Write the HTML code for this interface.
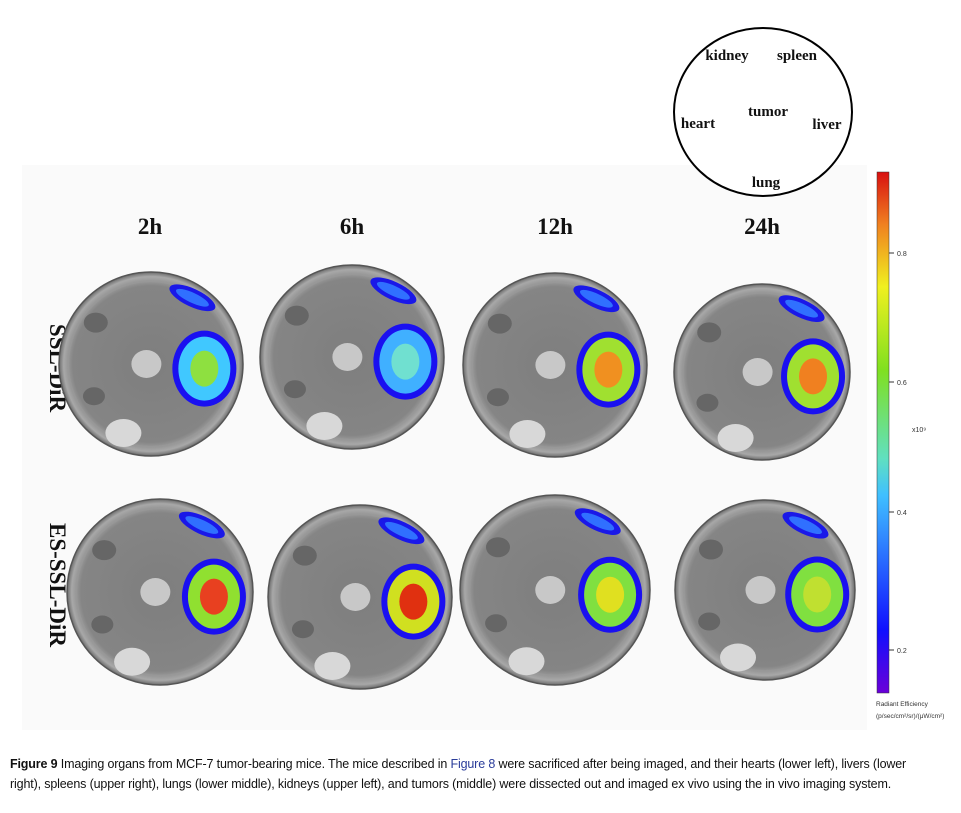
<!DOCTYPE html>
<html><head><meta charset="utf-8"><style>
body{margin:0;background:#fff;width:961px;height:813px;overflow:hidden;font-family:"Liberation Sans",sans-serif}
svg{position:absolute;left:0;top:0}
.cap{position:absolute;left:10px;top:754px;width:950px;font-size:12.5px;letter-spacing:-0.15px;line-height:20px;color:#111;font-family:"Liberation Sans",sans-serif;white-space:nowrap}
.cap b{font-weight:bold}
.cap a{color:#2a3c9a;text-decoration:none}
</style></head><body>
<svg width="961" height="813">
<defs>
<linearGradient id="cb" x1="0" y1="1" x2="0" y2="0">
<stop offset="0" stop-color="#6a00d8"/><stop offset="0.12" stop-color="#1010ff"/><stop offset="0.38" stop-color="#40c0ff"/><stop offset="0.45" stop-color="#60e0c0"/><stop offset="0.62" stop-color="#80e020"/><stop offset="0.78" stop-color="#f0f020"/><stop offset="0.9" stop-color="#f08020"/><stop offset="1" stop-color="#d81010"/>
</linearGradient>
<radialGradient id="dishg"><stop offset="0" stop-color="#7e7e7e"/><stop offset="0.85" stop-color="#858585"/><stop offset="0.95" stop-color="#a8a8a8"/><stop offset="1" stop-color="#6a6a6a"/></radialGradient>
</defs>
<rect x="22" y="165" width="845" height="565" fill="#fafafa"/>
<g font-family="Liberation Serif,serif" font-weight="bold" font-size="15" fill="#111">
<ellipse cx="763" cy="112" rx="89" ry="84" fill="#fff" stroke="#000" stroke-width="2"/>
<text x="727" y="60" text-anchor="middle">kidney</text>
<text x="797" y="60" text-anchor="middle">spleen</text>
<text x="768" y="116" text-anchor="middle">tumor</text>
<text x="698" y="128" text-anchor="middle">heart</text>
<text x="827" y="129" text-anchor="middle">liver</text>
<text x="766" y="187" text-anchor="middle">lung</text>
</g>
<g font-family="Liberation Serif,serif" font-weight="bold" font-size="23" fill="#111" text-anchor="middle">
<text x="150" y="234">2h</text>
<text x="352" y="234">6h</text>
<text x="555" y="234">12h</text>
<text x="762" y="234">24h</text>
<text transform="translate(50,368) rotate(90)">SSL-DiR</text>
<text transform="translate(50,585) rotate(90)">ES-SSL-DiR</text>
</g>
<g id="dishes"></g>
<g>
<rect x="877" y="172" width="12" height="521" fill="url(#cb)" stroke="#333" stroke-width="0.5"/>
<g id="cbticks" font-size="7" fill="#333"></g>
<text x="912" y="432" font-size="7" fill="#333">x10⁹</text>
<text x="876" y="706" font-size="6.5" fill="#333">Radiant Efficiency</text>
<text x="876" y="718" font-size="6.5" fill="#333">(p/sec/cm²/sr)/(μW/cm²)</text>
</g>
</svg>
<div class="cap"><b>Figure 9</b> Imaging organs from MCF-7 tumor-bearing mice. The mice described in <a>Figure 8</a> were sacrificed after being imaged, and their hearts (lower left), livers (lower<br>right), spleens (upper right), lungs (lower middle), kidneys (upper left), and tumors (middle) were dissected out and imaged ex vivo using the in vivo imaging system.</div>
<script>
const tickValues=[0.8,0.6,0.4,0.2];
const tickY=[253,382,512,650];
const cb=document.getElementById('cbticks');
tickValues.forEach((v,i)=>{
 const l=document.createElementNS('http://www.w3.org/2000/svg','line');
 l.setAttribute('x1',889);l.setAttribute('x2',894);l.setAttribute('y1',tickY[i]);l.setAttribute('y2',tickY[i]);l.setAttribute('stroke','#333');
 
 
 cb.appendChild(l);
 const t=document.createElementNS('http://www.w3.org/2000/svg','text');
 t.setAttribute('x',897);t.setAttribute('y',tickY[i]+3);t.textContent=v;
 
 
 cb.appendChild(t);
});
const ns='http://www.w3.org/2000/svg';
const dishes=[[151,364,92],[352,357,92],[555,365,92],[762,372,88],[160,592,93],[360,597,92],[555,590,95],[765,590,90]];
const liverCols=[['#1a10f0','#40c8ff','#8ee040'],['#1a10f0','#40b0ff','#70e0d0'],['#1a10f0','#a0e030','#f09020'],['#1a10f0','#a0e030','#f08020'],['#1a10f0','#90e030','#e84020'],['#1a10f0','#d0e020','#e03010'],['#1a10f0','#80e040','#e0e020'],['#1a10f0','#80e040','#c0e030']];
const g=document.getElementById('dishes');
function el(tag,a,p){const e=document.createElementNS(ns,tag);for(const k in a)e.setAttribute(k,a[k]);(p||g).appendChild(e);return e;}
dishes.forEach((d,i)=>{
 const [cx,cy,r]=d;
 const grp=el('g',{});
 
 
 el('circle',{cx,cy,r,fill:'url(#dishg)',stroke:'#555','stroke-width':1.5},grp);
 el('circle',{cx,cy,r:r*0.9,fill:'none',stroke:'#9a9a9a','stroke-width':2,opacity:0.6},grp);
 el('ellipse',{cx:cx-r*0.6,cy:cy-r*0.45,rx:12,ry:10,fill:'#666'},grp);
 el('ellipse',{cx:cx-r*0.62,cy:cy+r*0.35,rx:11,ry:9,fill:'#666'},grp);
 el('ellipse',{cx:cx-r*0.05,cy:cy,rx:15,ry:14,fill:'#c8c8c8'},grp);
 el('ellipse',{cx:cx-r*0.3,cy:cy+r*0.75,rx:18,ry:14,fill:'#d8d8d8'},grp);
 el('ellipse',{cx:cx+r*0.45,cy:cy-r*0.72,rx:25,ry:9,transform:`rotate(25 ${cx+r*0.45} ${cy-r*0.72})`,fill:'#1a18e8'},grp);
 el('ellipse',{cx:cx+r*0.45,cy:cy-r*0.72,rx:18,ry:5,transform:`rotate(25 ${cx+r*0.45} ${cy-r*0.72})`,fill:'#3070ff'},grp);
 const lx=cx+r*0.58,ly=cy+r*0.05;
 const c=liverCols[i];
 el('ellipse',{cx:lx,cy:ly,rx:32,ry:38,fill:c[0]},grp);
 el('ellipse',{cx:lx,cy:ly,rx:26,ry:32,fill:c[1]},grp);
 el('ellipse',{cx:lx,cy:ly,rx:14,ry:18,fill:c[2]},grp);
});
</script>
</body></html>
